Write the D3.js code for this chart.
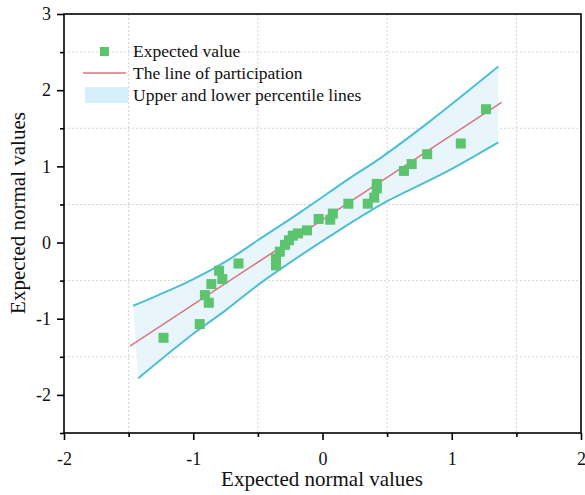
<!DOCTYPE html>
<html><head><meta charset="utf-8">
<script src="https://cdn.jsdelivr.net/npm/d3@7"></script>
<style>body{margin:0;background:#fff} svg{display:block}</style>
</head><body>
<svg id="c" width="585" height="495"></svg>
<script>
// ---- data ----
const xTicks = [-2, -1, 0, 1, 2];
const yTicks = [-2, -1, 0, 1, 2, 3];
const xMinor = [-1.5, -0.5, 0.5, 1.5];
const yMinor = [-2.5, -1.5, -0.5, 0.5, 1.5, 2.5];
const xGrid = [-1.5, -0.5, 0.5, 1.5];
const yGrid = [-1.5, -0.5, 0.5, 1.5, 2.5];

const expectedPoints = [
  [-1.23, -1.25], [-0.95, -1.07], [-0.91, -0.69], [-0.88, -0.79], [-0.86, -0.545],
  [-0.80, -0.37], [-0.775, -0.48], [-0.65, -0.275], [-0.36, -0.30], [-0.36, -0.21],
  [-0.33, -0.12], [-0.29, -0.03], [-0.26, 0.03], [-0.23, 0.09], [-0.19, 0.12],
  [-0.12, 0.16], [-0.03, 0.31], [0.06, 0.30], [0.08, 0.38], [0.20, 0.51],
  [0.35, 0.51], [0.40, 0.59], [0.42, 0.71], [0.42, 0.77], [0.63, 0.94],
  [0.69, 1.03], [0.81, 1.16], [1.07, 1.30], [1.265, 1.75]
];
const refLine = [[-1.49, -1.36], [1.385, 1.84]];
const upperLine = [
  [-1.465, -0.83], [-1.27, -0.69], [-1.01, -0.49], [-0.75, -0.25], [-0.5, 0.03],
  [-0.17, 0.40], [0.22, 0.855], [0.445, 1.105], [0.83, 1.59], [1.36, 2.31]
];
const lowerLine = [
  [-1.425, -1.78], [-1.01, -1.21], [-0.75, -0.89], [-0.47, -0.52], [0.24, 0.28],
  [0.47, 0.515], [0.96, 0.93], [1.36, 1.315]
];
const legendLabels = ["Expected value", "The line of participation", "Upper and lower percentile lines"];
const xTitle = "Expected normal values";
const yTitle = "Expected normal values";

// ---- layout ----
const L = 64, R = 581, T = 14, B = 433;
const font = "'Liberation Serif','Times New Roman',serif";
const svg = d3.select("#c");
const x = d3.scaleLinear().domain([-2, 2]).range([L, R]);
const y = d3.scaleLinear().domain([-2.5, 3]).range([B, T]);

const green = "#5cc46e", cyan = "#4cbfd3", red = "#d8757f";

// grid
const g = svg.append("g");
g.selectAll(".gx").data(xGrid).enter().append("line")
  .attr("x1", d => x(d)).attr("x2", d => x(d)).attr("y1", T).attr("y2", B)
  .attr("stroke", "#d4d4d4").attr("stroke-width", 1).attr("stroke-dasharray", "2,2");
g.selectAll(".gy").data(yGrid).enter().append("line")
  .attr("y1", d => y(d)).attr("y2", d => y(d)).attr("x1", L).attr("x2", R)
  .attr("stroke", "#d4d4d4").attr("stroke-width", 1).attr("stroke-dasharray", "2,2");

// band fill
const lineGen = d3.line().x(d => x(d[0])).y(d => y(d[1])).curve(d3.curveCatmullRom);
const upPath = lineGen(upperLine);
const lowRevPath = lineGen(lowerLine.slice().reverse());
svg.append("path")
  .attr("d", upPath + "L" + lowRevPath.slice(1) + "Z")
  .attr("fill", "#e8f6fb");

svg.append("path").attr("d", upPath).attr("fill", "none")
  .attr("stroke", cyan).attr("stroke-width", 2);
svg.append("path").attr("d", lineGen(lowerLine)).attr("fill", "none")
  .attr("stroke", cyan).attr("stroke-width", 2);
svg.append("path").attr("d", d3.line().x(d => x(d[0])).y(d => y(d[1]))(refLine))
  .attr("fill", "none").attr("stroke", red).attr("stroke-width", 1.5);

// points
const S = 10;
svg.selectAll(".pt").data(expectedPoints).enter().append("rect")
  .attr("x", d => x(d[0]) - S / 2).attr("y", d => y(d[1]) - S / 2)
  .attr("width", S).attr("height", S).attr("fill", green);

// frame
svg.append("rect").attr("x", L).attr("y", T).attr("width", R - L).attr("height", B - T)
  .attr("fill", "none").attr("stroke", "#000").attr("stroke-width", 1.6);

// axes
const fmt = d => String(d);
const xAxis = svg.append("g").attr("transform", `translate(0,${B})`)
  .call(d3.axisBottom(x).tickValues(xTicks).tickSize(7).tickPadding(6).tickFormat(fmt));
const xAxisMinor = svg.append("g").attr("transform", `translate(0,${B})`)
  .call(d3.axisBottom(x).tickValues(xMinor).tickSize(4).tickFormat(""));
const yAxis = svg.append("g").attr("transform", `translate(${L},0)`)
  .call(d3.axisLeft(y).tickValues(yTicks).tickSize(7).tickPadding(6).tickFormat(fmt));
const yAxisMinor = svg.append("g").attr("transform", `translate(${L},0)`)
  .call(d3.axisLeft(y).tickValues(yMinor).tickSize(4).tickFormat(""));
[xAxis, xAxisMinor, yAxis, yAxisMinor].forEach(a => {
  a.select(".domain").remove();
  a.selectAll(".tick line").attr("stroke", "#000").attr("stroke-width", 1.6);
  a.selectAll("text").attr("font-family", font).attr("font-size", 18).attr("fill", "#111");
});
xAxis.selectAll("text").attr("dy", "1.05em");

// titles
svg.append("text").attr("x", 322).attr("y", 486).attr("text-anchor", "middle")
  .attr("font-family", font).attr("font-size", 21).attr("fill", "#111").text(xTitle);
svg.append("text").attr("transform", "translate(25,213) rotate(-90)").attr("text-anchor", "middle")
  .attr("font-family", font).attr("font-size", 21).attr("fill", "#111").text(yTitle);

// legend
const lg = svg.append("g");
lg.append("rect").attr("x", 100).attr("y", 47).attr("width", 9).attr("height", 9).attr("fill", green);
lg.append("line").attr("x1", 83).attr("x2", 126).attr("y1", 73).attr("y2", 73)
  .attr("stroke", red).attr("stroke-width", 1.5);
lg.append("rect").attr("x", 85).attr("y", 87).attr("width", 43).attr("height", 16).attr("fill", "#d6f0fa");
lg.selectAll(".lt").data(legendLabels).enter().append("text")
  .attr("x", 133).attr("y", (d, i) => 57 + i * 22)
  .attr("font-family", font).attr("font-size", 17.5).attr("fill", "#111").text(d => d);
</script>
</body></html>
